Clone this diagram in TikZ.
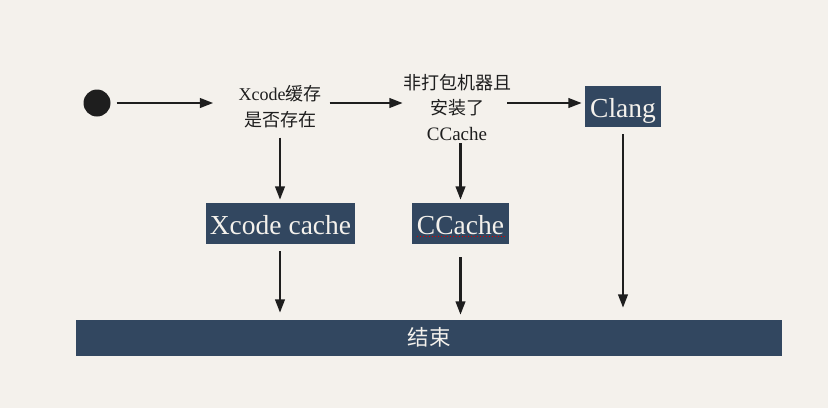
\documentclass[tikz,border=0pt]{standalone}
\usepackage{fontspec}
\setmainfont{Liberation Serif}
\newfontfamily\cjk{Noto Sans CJK SC}
\usetikzlibrary{arrows.meta,calc}
\definecolor{paper}{RGB}{244,241,236}
\definecolor{slate}{RGB}{50,71,96}
\definecolor{ink}{RGB}{30,30,30}

\begin{document}
\begin{tikzpicture}[x=1pt, y=-1pt,
	arr/.style={ink, line width=2.6pt, -{Triangle[length=13.5pt,width=9.5pt]}},
	box/.style={fill=slate, text=paper, inner sep=0pt, minimum height=41pt, text height=21pt, text depth=0pt, font=\fontsize{27.5}{30}\selectfont},
	ask/.style={ink, inner sep=0pt, align=center, font=\fontsize{18}{25.5}\selectfont}]
		%%%%% START %%%%%
		\fill[paper] (0, 0) rectangle (828, 408);
		
		\node[circle, fill=ink, minimum size=27pt, inner sep=0pt] (start) at (97, 103) {};
		\node[ask] (cached) at (280, 106.5) {Xcode{\cjk 缓存}\\{\cjk 是否存在}};
		\node[ask] (ccok) at (457, 107) {{\cjk 非打包机器且}\\{\cjk 安装了}\\{\fontsize{19}{25.5}\selectfont CCache}};
		
		\node[box, minimum width=76pt] (clang) at (623, 106.5) {Clang};
		\node[box, minimum width=149pt] (xcache) at (280.5, 223.5) {Xcode cache};
		\node[box, minimum width=97pt] (ccache) at (460.5, 223.5) {CCache};
		\draw[red!85!black, dotted, line width=1pt] ($(ccache.south west)+(5,-7.5)$) -- ($(ccache.south east)+(-4,-7.5)$);
		
		\node[box, minimum width=706pt, minimum height=36pt, text height=15pt, font=\cjk\fontsize{21.5}{24}\selectfont] (done) at (429, 338) {结束};
		
		\draw[arr, shorten <=6pt, shorten >=25pt] (start) -- (start -| cached.west);
		\draw[arr, shorten <=8pt] (cached.east |- start) -- (ccok.west |- start);
		\draw[arr, shorten <=-4pt, shorten >=3pt] (ccok.east |- start) -- (clang.west |- start);
		
		\draw[arr, shorten <=10pt, shorten >=3pt] (cached.south) -- (cached.south |- xcache.north);
		\draw[arr, shorten <=3pt, shorten >=3pt] (ccache.north |- ccok.south) -- (ccache.north);
		
		\draw[arr, shorten <=7pt, shorten >=7pt] (xcache.south -| cached) -- (cached |- done.north);
		\draw[arr, shorten <=13pt, shorten >=5pt] (ccache.south) -- (ccache.south |- done.north);
		\draw[arr, shorten <=7pt, shorten >=12pt] (clang.south) -- (clang.south |- done.north);
		%%%%% END %%%%%
	\end{tikzpicture}
\end{document}
